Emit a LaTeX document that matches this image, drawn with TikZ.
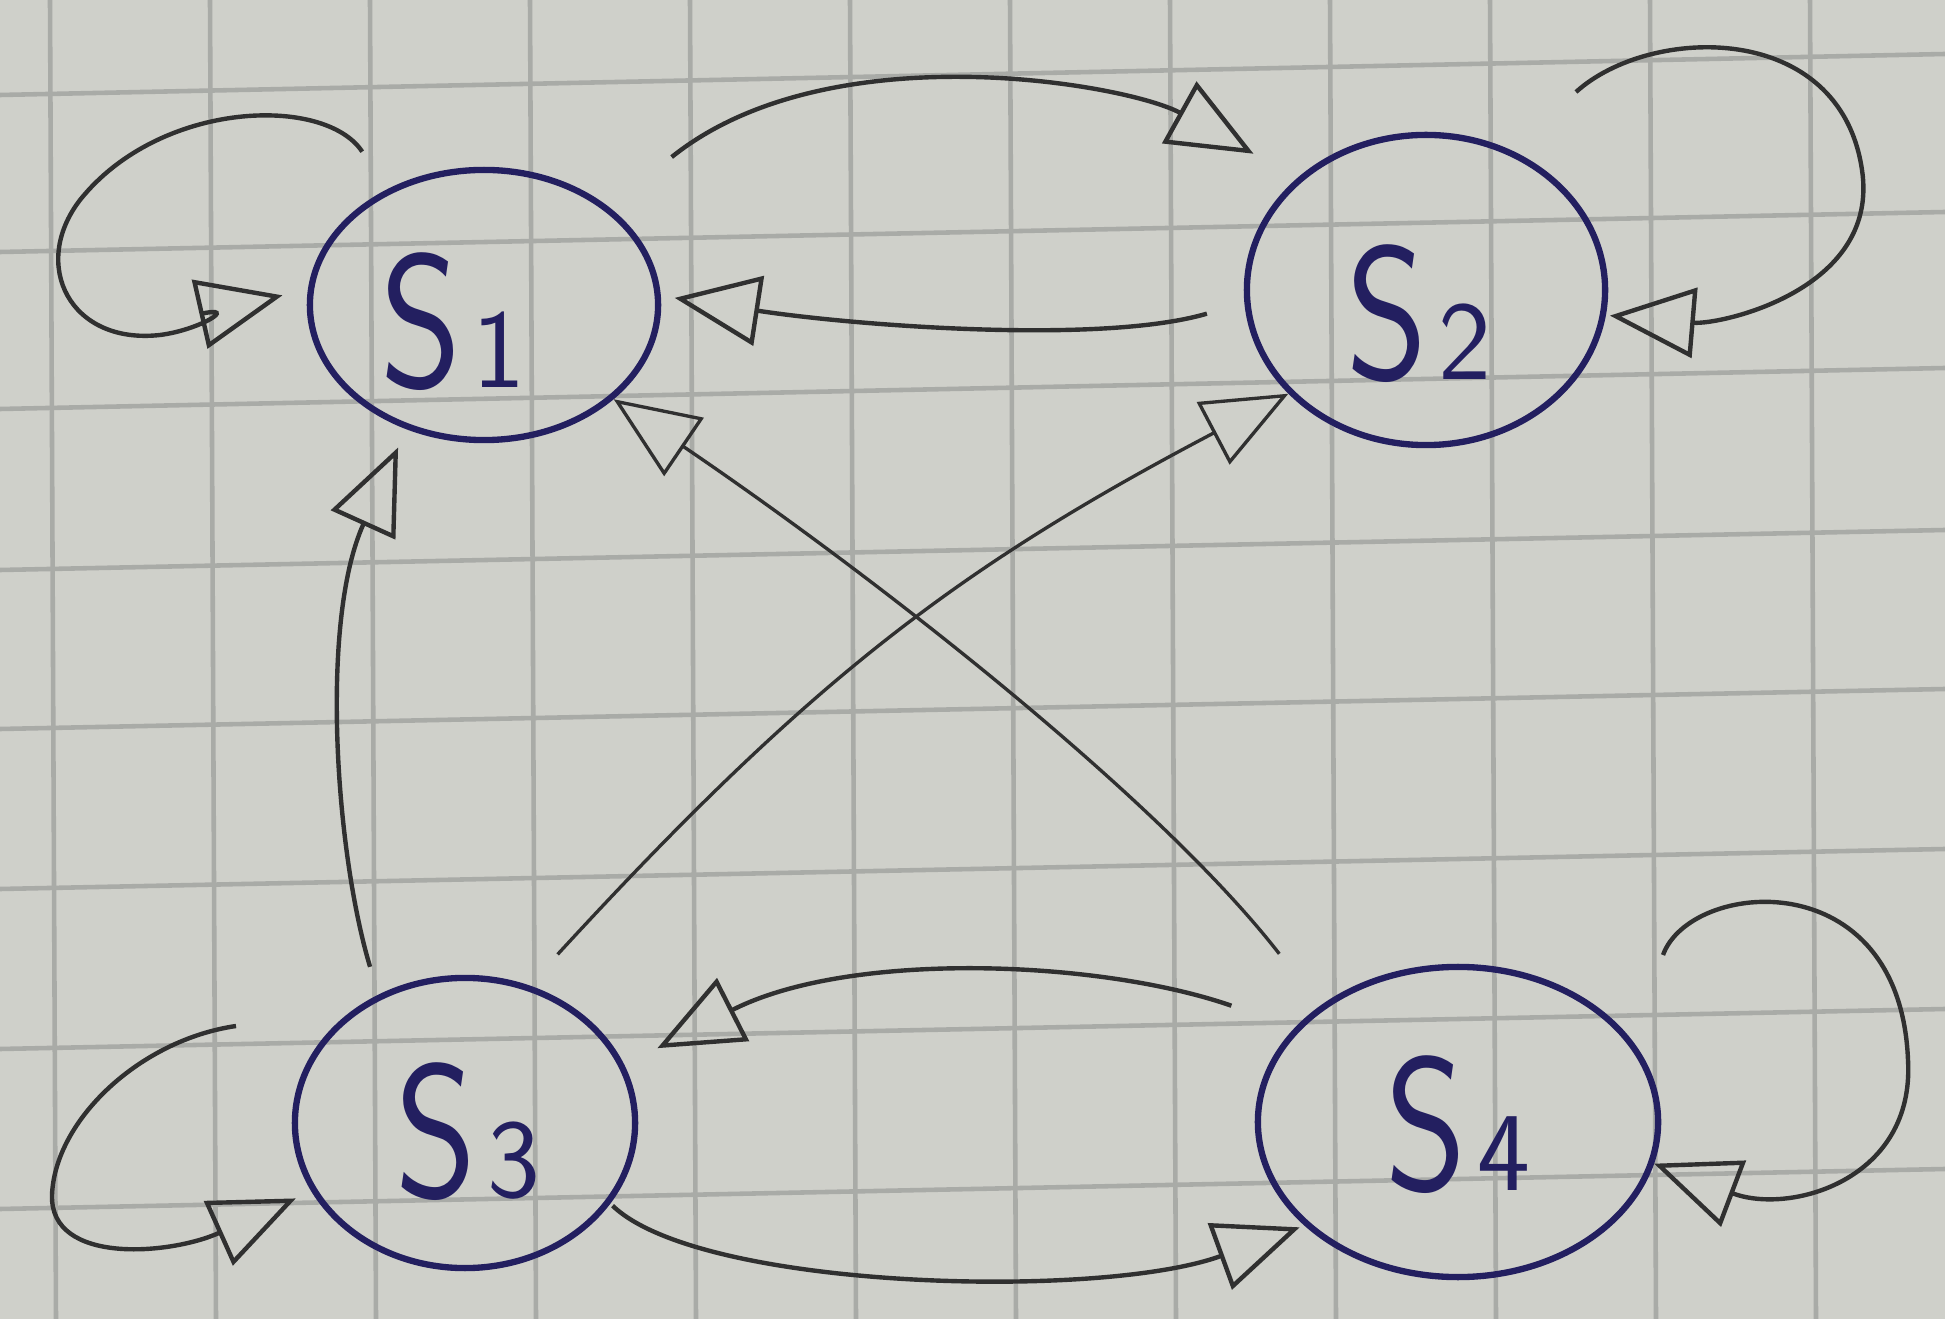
\documentclass[tikz,border=0pt]{standalone}
\usetikzlibrary{arrows.meta,shapes.geometric}
\definecolor{paper}{HTML}{CFD0CA}
\definecolor{gridc}{HTML}{A9ABA7}
\definecolor{ink}{HTML}{231F60}
\definecolor{pencil}{HTML}{303030}
\newcommand{\stname}[1]{\sffamily{\fontsize{54}{54}\selectfont\scalebox{0.82}[1]{S}}\kern3pt{\fontsize{32}{32}\selectfont #1}}
\begin{document}
\begin{tikzpicture}[x=0.01cm,y=-0.01cm,
  state/.style={ellipse, draw=ink, line width=1.8pt, inner sep=0pt},
  lbl/.style={text=ink, inner sep=0pt},
  edge/.style={draw=pencil, line width=1.25pt, -{Triangle[open,length=0.85cm,width=0.7cm]}},
  thinedge/.style={edge, line width=0.95pt},
  gridline/.style={draw=gridc, line width=1.3pt}]
\fill[paper] (0,0) rectangle (1945,1319);
\useasboundingbox (0,0) rectangle (1945,1319);
\foreach \x in {50,210,...,1810} \draw[gridline] (\x,0) -- (\x+6,1319);
\foreach \a/\b in {95/54, 252/212, 409/368, 570/530, 729/689, 889/849, 1049/1009, 1209/1169}
  \draw[gridline] (0,\a) -- (1945,\b);

\node[state, minimum width=3.48cm, minimum height=2.70cm,
  label={[lbl, xshift=-0.31cm, yshift=-0.17cm]center:\stname{1}}] (S1) at (484,305) {};
\node[state, minimum width=3.58cm, minimum height=3.10cm,
  label={[lbl, xshift=-0.07cm, yshift=-0.24cm]center:\stname{2}}] (S2) at (1426,290) {};
\node[state, minimum width=3.40cm, minimum height=2.90cm,
  label={[lbl, xshift=0.03cm, yshift=-0.09cm]center:\stname{3}}] (S3) at (465,1123) {};
\node[state, minimum width=4.00cm, minimum height=3.10cm,
  label={[lbl, yshift=-0.03cm]center:\stname{4}}] (S4) at (1458,1122) {};

\coordinate (d0) at (1576,92);
\coordinate (j0) at (236,1026);
\coordinate (k0) at (1663,955);

% S1 self loop
\draw[edge, shorten <=0.45cm, shorten >=0.26cm] (S1.130) .. controls (325,95) and (160,100) .. (80,200)
  .. controls (30,265) and (70,345) .. (160,335) .. controls (200,330) and (240,305) .. (S1.175);
% S1 -> S2
\draw[edge, shorten <=0.8cm, shorten >=0.5cm] (S1.38) .. controls (830,30) and (1130,85) .. (S2.139);
% S2 -> S1
\draw[edge, shorten <=0.39cm, shorten >=0.14cm] (S2.184) .. controls (1100,345) and (850,325) .. (S1.3);
% S2 self loop
\draw[edge, shorten >=0.04cm] (d0) .. controls (1650,25) and (1840,20) .. (1862,170)
  .. controls (1880,290) and (1720,325) .. (S2.352);
% S3 -> S1
\draw[edge, shorten <=0.29cm, shorten >=0.2cm] (S3.124) .. controls (335,850) and (320,620) .. (S1.238);
% S4 -> S1
\draw[thinedge, shorten <=0.66cm] (S4.140) .. controls (1160,800) and (880,580) .. (S1.324);
% S3 -> S2
\draw[thinedge, shorten <=0.42cm] (S3.65) .. controls (808,682) and (955,569) .. (S2.217);
% S4 -> S3
\draw[edge, shorten <=0.67cm, shorten >=0.37cm] (S4.150) .. controls (1100,960) and (850,950) .. (S3.20);
% S3 -> S4
\draw[edge, shorten <=0.03cm, shorten >=0.05cm] (S3.331) .. controls (700,1290) and (1100,1300) .. (S4.214);
% S3 self loop
\draw[edge, shorten >=0.17cm] (j0) .. controls (140,1040) and (55,1120) .. (52,1195)
  .. controls (50,1265) and (170,1255) .. (S3.204);
% S4 self loop
\draw[edge] (k0) .. controls (1690,880) and (1900,860) .. (1908,1060)
  .. controls (1915,1180) and (1790,1215) .. (S4.348);
\end{tikzpicture}
\end{document}
